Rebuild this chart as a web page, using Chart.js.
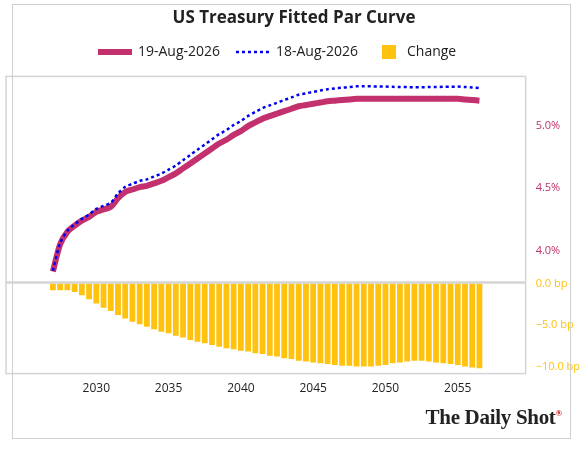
<!DOCTYPE html>
<html><head><meta charset="utf-8">
<script src="https://cdn.jsdelivr.net/npm/chart.js@4"></script>
<style>
html,body{margin:0;padding:0;background:#fff;}
#wrap{position:relative;width:584px;height:451px;}
#frame{position:absolute;left:12px;top:4px;width:559px;height:435px;border:1px solid #d0d0d0;box-sizing:border-box;}
#logo{position:absolute;right:22px;top:405px;font-family:"Liberation Serif",serif;font-weight:bold;font-size:21px;color:#222;letter-spacing:-0.3px;}
#logo sup{font-size:9px;color:#c00;}
</style></head><body>
<div id="wrap"><div id="frame"></div><canvas id="c" width="584" height="451"></canvas><div id="logo">The Daily Shot<sup>®</sup></div></div>
<script>
const years = [2027,2027.5,2028,2028.5,2029,2029.5,2030,2030.5,2031,2031.5,2032,2032.5,2033,2033.5,2034,2034.5,2035,2035.5,2036,2036.5,2037,2037.5,2038,2038.5,2039,2039.5,2040,2040.5,2041,2041.5,2042,2042.5,2043,2043.5,2044,2044.5,2045,2045.5,2046,2046.5,2047,2047.5,2048,2048.5,2049,2049.5,2050,2050.5,2051,2051.5,2052,2052.5,2053,2053.5,2054,2054.5,2055,2055.5,2056,2056.5];
const curAug19 = [3.83,4.05,4.15,4.20,4.24,4.27,4.31,4.33,4.35,4.42,4.47,4.49,4.51,4.52,4.54,4.56,4.59,4.62,4.66,4.70,4.74,4.78,4.82,4.86,4.89,4.93,4.96,5.00,5.03,5.06,5.08,5.10,5.12,5.14,5.16,5.17,5.18,5.19,5.20,5.205,5.21,5.215,5.22,5.22,5.22,5.22,5.22,5.22,5.22,5.22,5.22,5.22,5.22,5.22,5.22,5.22,5.22,5.215,5.21,5.205];
const changeBp = [-0.8,-0.8,-0.8,-1.0,-1.4,-1.9,-2.4,-2.9,-3.3,-3.8,-4.2,-4.6,-4.9,-5.2,-5.5,-5.8,-6.0,-6.3,-6.5,-6.8,-7.0,-7.2,-7.4,-7.6,-7.8,-7.9,-8.1,-8.2,-8.4,-8.5,-8.7,-8.8,-9.0,-9.1,-9.3,-9.4,-9.5,-9.6,-9.7,-9.8,-9.9,-9.9,-10.0,-10.0,-10.0,-9.9,-9.8,-9.6,-9.5,-9.4,-9.3,-9.3,-9.4,-9.5,-9.6,-9.7,-9.8,-10.0,-10.1,-10.2];
const curAug18 = curAug19.map((v,i)=>v - changeBp[i]/100);
const topTicks = [4.0,4.5,5.0];
const botTicks = [0,-5,-10];
const xTicks = [2030,2035,2040,2045,2050,2055];
const RED='#c2306e', BLUE='#0000ee', GOLD='#ffc20e';
const F='"Open Sans", sans-serif';

const legendPlugin = {id:'lg', afterDraw(ch){
  const c=ch.ctx; c.save();
  const y=52;
  c.font='14px '+F; c.fillStyle='#222'; c.textBaseline='middle';
  c.strokeStyle=RED; c.lineWidth=6; c.beginPath(); c.moveTo(98,y); c.lineTo(132,y); c.stroke();
  c.fillText('19-Aug-2026',138,y);
  c.strokeStyle=BLUE; c.lineWidth=2.5; c.setLineDash([3,3]); c.beginPath(); c.moveTo(236,y); c.lineTo(270,y); c.stroke(); c.setLineDash([]);
  c.fillText('18-Aug-2026',276,y);
  c.fillStyle=GOLD; c.fillRect(382,y-7,14,14);
  c.fillStyle='#222'; c.fillText('Change',407,y);
  const a=ch.chartArea; c.strokeStyle='#d4d4d4'; c.lineWidth=1.5;
  c.strokeRect(a.left,a.top,a.right-a.left,a.bottom-a.top);
  const yb=ch.scales.yb.getPixelForValue(0);
  c.lineWidth=2.5; c.beginPath(); c.moveTo(a.left,yb-1); c.lineTo(a.right,yb-1); c.stroke();
  c.restore();
}};
function keep(list){return s=>{s.ticks=list.map(v=>({value:v}));};}
new Chart(document.getElementById('c'),{
  data:{datasets:[
    {type:'line',label:'18-Aug-2026',data:years.map((x,i)=>({x,y:curAug18[i]})),yAxisID:'yt',borderColor:BLUE,borderWidth:2.5,borderDash:[3,3],pointRadius:0,tension:0.3,order:0},
    {type:'line',label:'19-Aug-2026',data:years.map((x,i)=>({x,y:curAug19[i]})),yAxisID:'yt',borderColor:RED,borderWidth:6,pointRadius:0,tension:0.3,order:1},
    {type:'bar',label:'Change',data:years.map((x,i)=>({x,y:changeBp[i]})),yAxisID:'yb',backgroundColor:GOLD,barPercentage:0.8,categoryPercentage:1,order:2}
  ]},
  options:{responsive:false,animation:false,
    layout:{padding:{left:6,right:2,top:0,bottom:55}},
    plugins:{legend:{display:false},tooltip:{enabled:false},
      title:{display:true,text:'US Treasury Fitted Par Curve',font:{family:F,size:17,weight:'bold'},color:'#222',padding:{top:8,bottom:48}}},
    scales:{
      x:{type:'linear',min:2026.75,max:2056.7,grid:{display:false},border:{display:false},afterBuildTicks:keep(xTicks),
        ticks:{font:{family:F,size:12},color:'#222',maxRotation:0,padding:0,callback:v=>String(v)}},
      yt:{position:'right',stack:'s',stackWeight:209,min:3.74,max:5.40,grid:{display:false},border:{display:false},afterBuildTicks:keep(topTicks),
        ticks:{font:{family:F,size:11},color:RED,padding:2,callback:v=>v.toFixed(1)+'%'}},
      yb:{position:'right',stack:'s',stackWeight:92,min:-10.85,max:0.1,grid:{display:false},border:{display:false},afterBuildTicks:keep(botTicks),
        ticks:{font:{family:F,size:11},color:GOLD,padding:2,callback:v=>(v<0?'−':'')+Math.abs(v).toFixed(1)+' bp'}}
    }},
  plugins:[legendPlugin]
});
</script></body></html>
